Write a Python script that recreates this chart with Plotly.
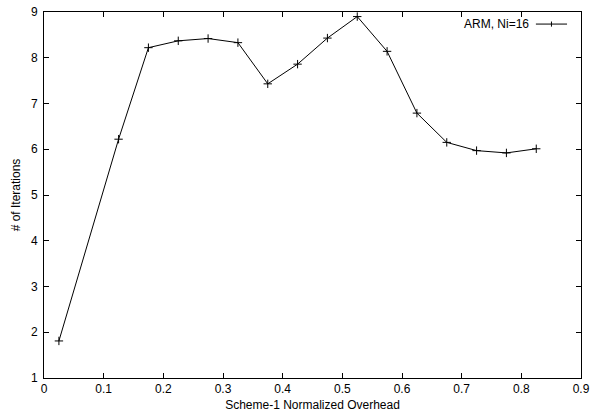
import plotly.graph_objects as go

overhead = [0.025, 0.125, 0.175, 0.225, 0.275, 0.325, 0.375, 0.425, 0.475,
            0.525, 0.575, 0.625, 0.675, 0.725, 0.775, 0.825]
iterations = [1.81, 6.22, 8.22, 8.37, 8.42, 8.33, 7.43, 7.86, 8.43,
              8.90, 8.14, 6.79, 6.15, 5.97, 5.92, 6.01]
series_name = "ARM, Ni=16"

FONT = "Liberation Sans, Arial, Helvetica, sans-serif"

fig = go.Figure()
fig.add_trace(go.Scatter(
    x=overhead, y=iterations, mode="lines+markers", name=series_name,
    line=dict(color="black", width=1),
    marker=dict(symbol="cross-thin", size=6, line=dict(color="black", width=1)),
    showlegend=False,
))

axis_common = dict(
    showline=True, linecolor="black", linewidth=1, mirror="allticks",
    ticks="inside", ticklen=5, tickcolor="black", tickwidth=1,
    showgrid=False, zeroline=False, automargin=False,
    tickfont=dict(family=FONT, size=12, color="black"),
)
fig.update_xaxes(range=[0, 0.9], dtick=0.1, tick0=0,
                 title=dict(text="Scheme-1 Normalized Overhead",
                            font=dict(family=FONT, size=12, color="black"),
                            standoff=5),
                 **axis_common)
fig.update_yaxes(range=[1, 9], dtick=1, tick0=1, ticklabelstandoff=3,
                 title=dict(text="# of Iterations",
                            font=dict(family=FONT, size=12, color="black"),
                            standoff=7),
                 **axis_common)

# gnuplot-style legend: text then line sample with marker
fig.add_annotation(xref="paper", yref="paper", x=0.906, y=0.967,
                   xanchor="right", yanchor="middle", showarrow=False,
                   text=series_name, font=dict(family=FONT, size=12, color="black"))
fig.add_shape(type="line", xref="paper", yref="paper",
              x0=0.916, x1=0.974, y0=0.967, y1=0.967,
              line=dict(color="black", width=1))
fig.add_shape(type="line", xref="paper", yref="paper",
              x0=0.945, x1=0.945, y0=0.96, y1=0.974,
              line=dict(color="black", width=1))

fig.update_layout(
    width=600, height=418,
    margin=dict(l=44, r=19, t=12, b=40),
    paper_bgcolor="white", plot_bgcolor="white",
    font=dict(family=FONT, size=12, color="black"),
)
fig.write_html(
    "out.html",
    config={"displayModeBar": False},
    post_script="document.body.style.margin='0';document.body.style.overflow='hidden';",
)
